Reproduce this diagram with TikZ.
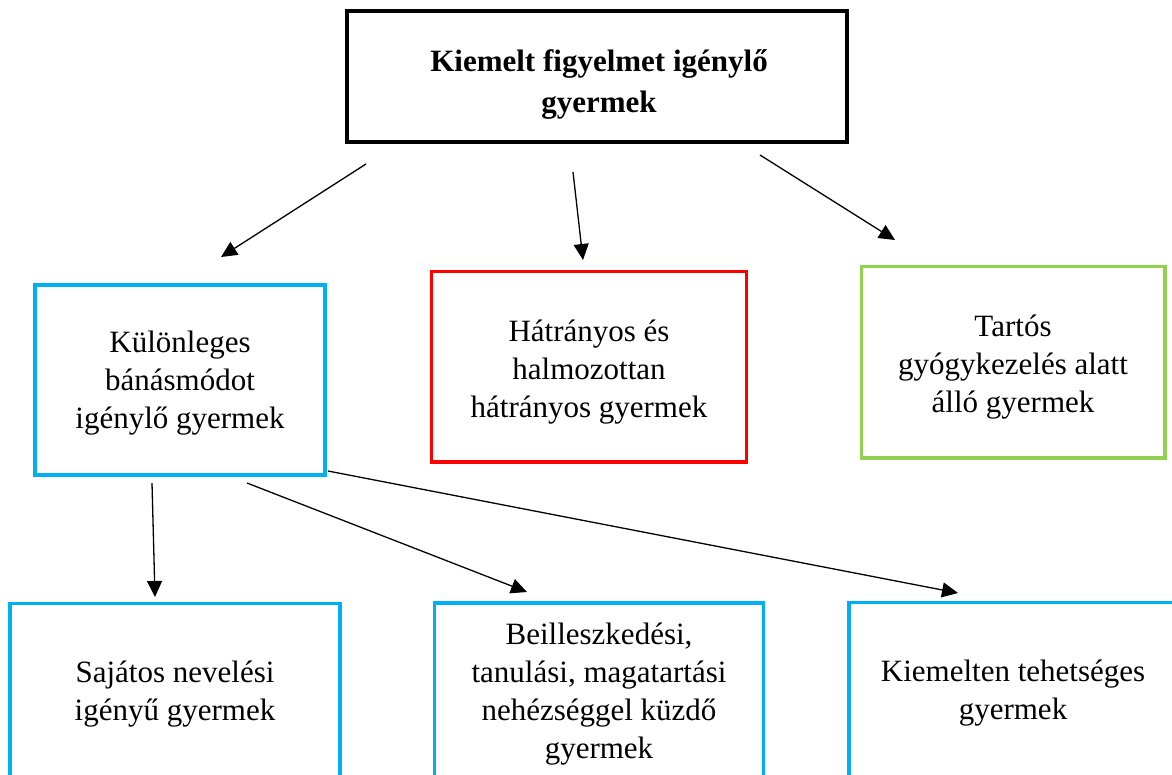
\documentclass[tikz,border=0pt]{standalone}
\usepackage{fontspec}
\setmainfont{Liberation Serif}
\usetikzlibrary{arrows.meta}
\definecolor{cblue}{HTML}{00B0F0}
\definecolor{cred}{HTML}{FF0000}
\definecolor{cgreen}{HTML}{92D050}
\begin{document}
\begin{tikzpicture}[x=1pt,y=-1pt,
  box/.style={draw, line width=3.5pt, inner sep=0pt, outer sep=0pt},
  lbl/.style={align=center, text=black, font=\fontsize{31}{38}\selectfont, inner sep=0pt},
  conn/.style={line width=1.3pt, -{Triangle[length=16pt,width=15pt]}}
]
\useasboundingbox (0,0) rectangle (1172,774);
\clip (0,0) rectangle (1172,774);
\fill[white] (0,0) rectangle (1172,774);

% boxes
\node[box, black, line width=4pt, minimum width=500pt, minimum height=131pt] (top) at (597,76.5) {};
\node[box, cblue, minimum width=290pt, minimum height=190pt] (kb) at (180,380) {};
\node[box, cred, minimum width=315pt, minimum height=190.5pt] (hh) at (589,366.75) {};
\node[box, cgreen, minimum width=303.5pt, minimum height=191.5pt] (tg) at (1013.25,362.25) {};
\node[box, cblue, minimum width=330pt, minimum height=196.5pt] (sn) at (175,701.75) {};
\node[box, cblue, minimum width=329pt, minimum height=197pt] (bt) at (599,701.5) {};
\node[box, cblue, minimum width=351pt, minimum height=197.5pt] (kt) at (1024.5,701.25) {};

% texts
\node[lbl, font=\fontsize{31}{40.5}\selectfont\bfseries] (ttop) at (599,84.5) {Kiemelt figyelmet igénylő\\gyermek};
\node[lbl] (tkb) at (180,383) {Különleges\\bánásmódot\\igénylő gyermek};
\node[lbl] (thh) at (589,372) {Hátrányos és\\halmozottan\\hátrányos gyermek};
\node[lbl] (ttg) at (1013,367) {Tartós\\gyógykezelés alatt\\álló gyermek};
\node[lbl] (tsn) at (175,694) {Sajátos nevelési\\igényű gyermek};
\node[lbl] (tbt) at (599,694) {Beilleszkedési,\\tanulási, magatartási\\nehézséggel küzdő\\gyermek};
\node[lbl] (tkt) at (1013,693) {Kiemelten tehetséges\\gyermek};

% connector end points
\coordinate (a1s) at (366,164); \coordinate (a1e) at (221,257);
\coordinate (a2s) at (573,172); \coordinate (a2e) at (583,260);
\coordinate (a3s) at (760,155); \coordinate (a3e) at (895,240);
\coordinate (a4s) at (152,483); \coordinate (a4e) at (155,597);
\coordinate (a5s) at (247,483); \coordinate (a5e) at (527,592);
\coordinate (a6s) at (328,471); \coordinate (a6e) at (958,593);

\draw[conn] (a1s) -- (a1e);
\draw[conn] (a2s) -- (a2e);
\draw[conn] (a3s) -- (a3e);
\draw[conn] (a4s) -- (a4e);
\draw[conn] (a5s) -- (a5e);
\draw[conn] (a6s) -- (a6e);
\end{tikzpicture}
\end{document}
